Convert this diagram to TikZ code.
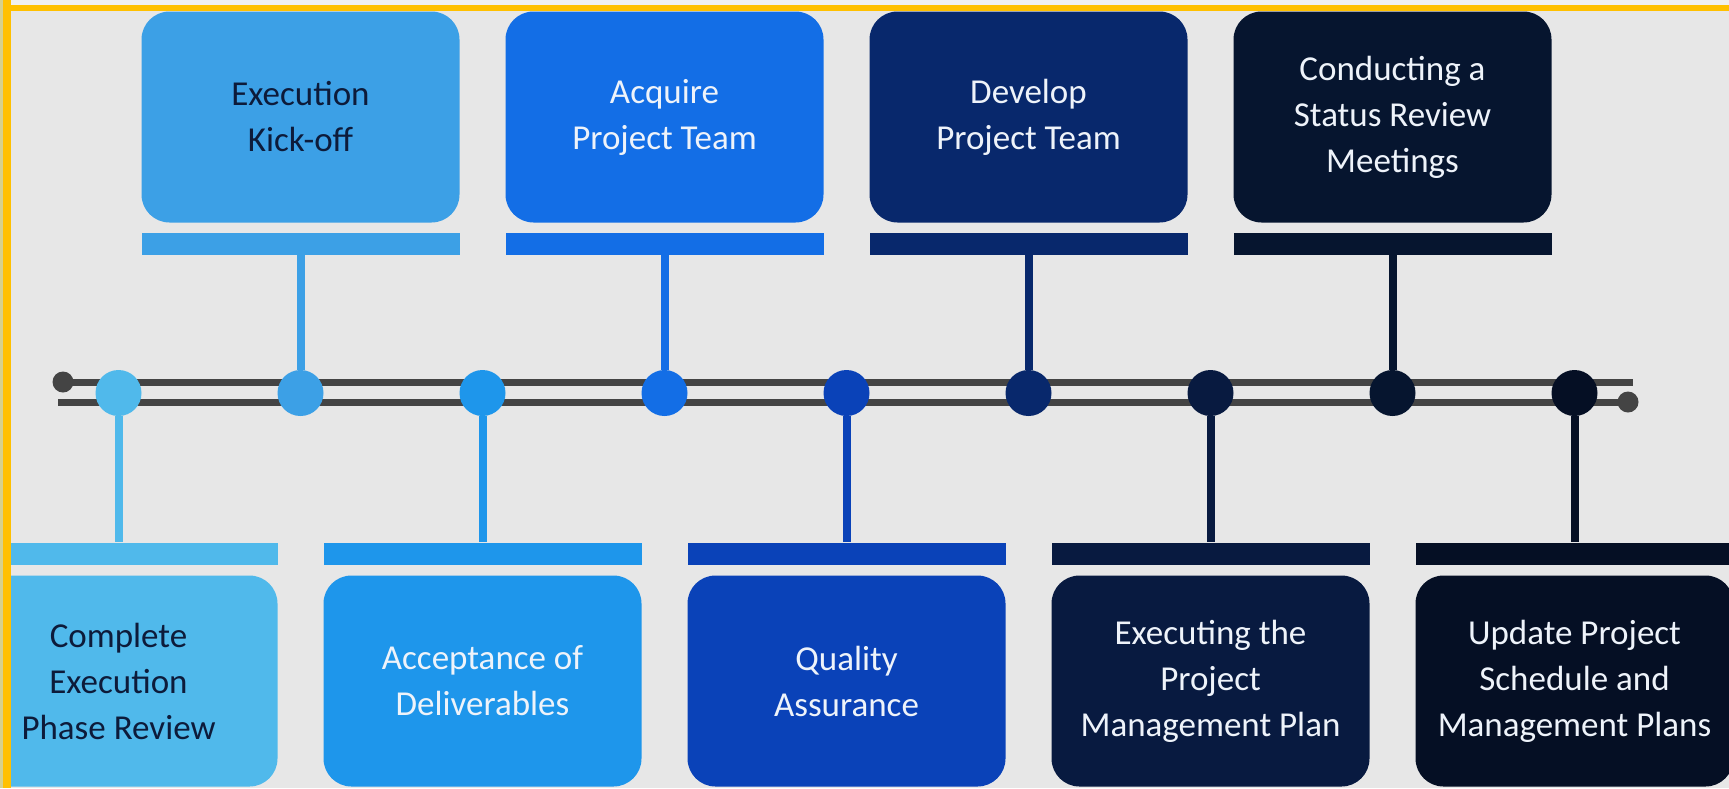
\documentclass[tikz,border=0pt]{standalone}
\usepackage{fontspec}
\setmainfont{Carlito}
\definecolor{bg}{HTML}{E7E7E7}
\definecolor{topstrip}{HTML}{F0F0F0}
\definecolor{frameorange}{HTML}{FFC000}
\definecolor{khaki}{HTML}{D6D08C}
\definecolor{railgrey}{HTML}{444444}
\definecolor{darktext}{HTML}{0D1B3A}
\definecolor{lighttext}{HTML}{EEF3FA}
\definecolor{c0}{HTML}{50B9EB}
\definecolor{c1}{HTML}{3CA0E6}
\definecolor{c2}{HTML}{1E96EB}
\definecolor{c3}{HTML}{136EE6}
\definecolor{c4}{HTML}{0A42B8}
\definecolor{c5}{HTML}{08286C}
\definecolor{c6}{HTML}{081A40}
\definecolor{c7}{HTML}{06152F}
\definecolor{c8}{HTML}{050F24}
\begin{document}
\begin{tikzpicture}[x=1pt,y=-1pt,
  box/.style={rounded corners=28pt, minimum width=318pt, minimum height=211pt,
    inner sep=0pt, align=center, font=\fontsize{35}{46}\selectfont},
  bar/.style={minimum width=318pt, minimum height=22pt, inner sep=0pt},
  dotc/.style={circle, minimum size=46pt, inner sep=0pt},
  stem/.style={line width=8pt},
  rail/.style={line width=7pt, draw=railgrey},
  endp/.style={circle, fill=railgrey, minimum size=21pt, inner sep=0pt}]
\clip (0,0) rectangle (1729,788);
\fill[bg] (0,0) rectangle (1729,788);
% rails
\node[endp] (lend) at (63,382) {};
\coordinate (r1e) at (1633,382);
\coordinate (r2s) at (58,402);
\node[endp] (rend) at (1628,402) {};
\draw[rail] (lend.center) -- (r1e);
\draw[rail] (r2s) -- (rend.center);
% timeline circles
\node[dotc, fill=c0] (d0) at (118.5,393) {};
\node[dotc, fill=c1] (d1) at (300.5,393) {};
\node[dotc, fill=c2] (d2) at (482.5,393) {};
\node[dotc, fill=c3] (d3) at (664.5,393) {};
\node[dotc, fill=c4] (d4) at (846.5,393) {};
\node[dotc, fill=c5] (d5) at (1028.5,393) {};
\node[dotc, fill=c6] (d6) at (1210.5,393) {};
\node[dotc, fill=c7] (d7) at (1392.5,393) {};
\node[dotc, fill=c8] (d8) at (1574.5,393) {};
% bars
\node[bar, fill=c0] (b0) at (118.5,553.5) {};
\node[bar, fill=c1] (b1) at (300.5,244) {};
\node[bar, fill=c2] (b2) at (482.5,553.5) {};
\node[bar, fill=c3] (b3) at (664.5,244) {};
\node[bar, fill=c4] (b4) at (846.5,553.5) {};
\node[bar, fill=c5] (b5) at (1028.5,244) {};
\node[bar, fill=c6] (b6) at (1210.5,553.5) {};
\node[bar, fill=c7] (b7) at (1392.5,244) {};
\node[bar, fill=c8] (b8) at (1574.5,553.5) {};
% stems
\draw[stem, c0] (d0.south) -- (b0.north);
\draw[stem, c1] (d1.north) -- (b1.south);
\draw[stem, c2] (d2.south) -- (b2.north);
\draw[stem, c3] (d3.north) -- (b3.south);
\draw[stem, c4] (d4.south) -- (b4.north);
\draw[stem, c5] (d5.north) -- (b5.south);
\draw[stem, c6] (d6.south) -- (b6.north);
\draw[stem, c7] (d7.north) -- (b7.south);
\draw[stem, c8] (d8.south) -- (b8.north);
% boxes
\node[box, fill=c0, text=darktext] (x0) at (118.5,681) {Complete\\Execution\\Phase Review};
\node[box, fill=c1, text=darktext] (x1) at (300.5,117) {Execution\\Kick-off};
\node[box, fill=c2, text=lighttext] (x2) at (482.5,681) {Acceptance of\\Deliverables};
\node[box, fill=c3, text=lighttext] (x3) at (664.5,117) {Acquire\\Project Team};
\node[box, fill=c4, text=lighttext] (x4) at (846.5,681) {Quality\\Assurance};
\node[box, fill=c5, text=lighttext] (x5) at (1028.5,117) {Develop\\Project Team};
\node[box, fill=c6, text=lighttext] (x6) at (1210.5,681) {Executing the\\Project\\Management Plan};
\node[box, fill=c7, text=lighttext] (x7) at (1392.5,117) {Conducting a\\Status Review\\Meetings};
\node[box, fill=c8, text=lighttext] (x8) at (1574.5,681) {Update Project\\Schedule and\\Management Plans};
% frame
\fill[topstrip] (0,0) rectangle (1729,5);
\fill[frameorange] (3,5) rectangle (1729,11);
\fill[frameorange] (3,0) rectangle (11,788);
\fill[khaki] (0,0) rectangle (3,788);
\end{tikzpicture}
\end{document}
